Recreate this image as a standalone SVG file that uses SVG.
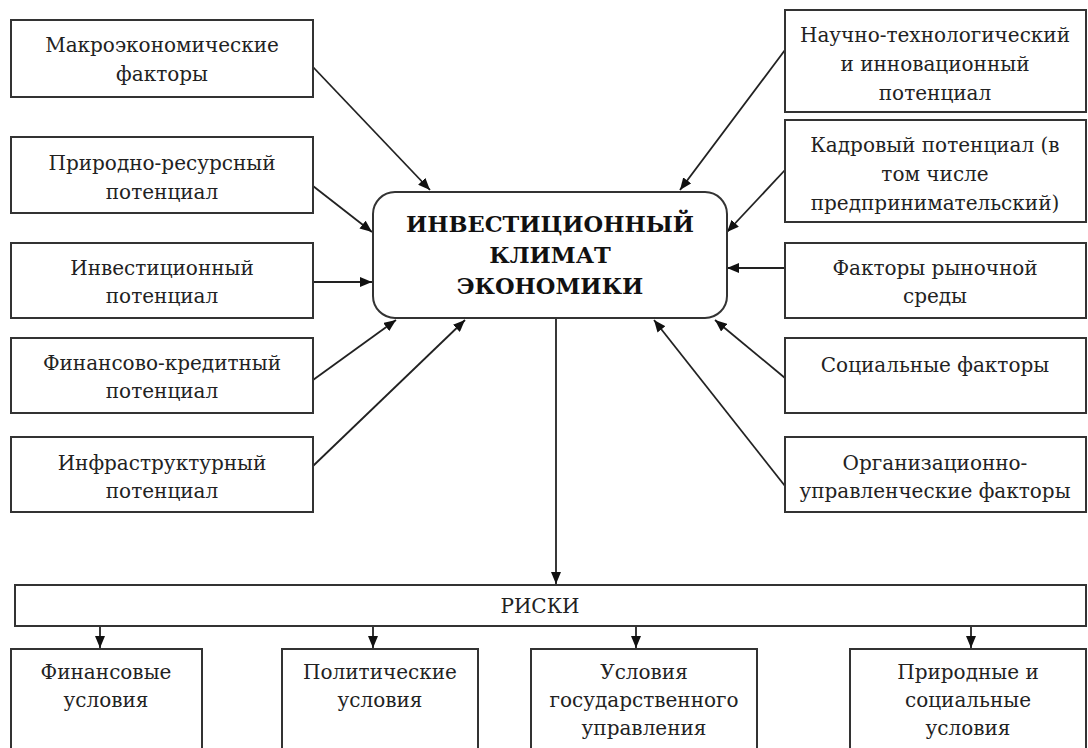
<svg xmlns="http://www.w3.org/2000/svg" width="1088" height="748" viewBox="0 0 1088 748">
<style>
.box{fill:#fff;stroke:#333;stroke-width:2}
.t{font-family:"DejaVu Serif","Liberation Serif",serif;font-size:20px;fill:#222;text-anchor:middle}
.b{font-family:"DejaVu Serif","Liberation Serif",serif;font-size:22.5px;font-weight:bold;fill:#111;text-anchor:middle}
.c{stroke:#222;stroke-width:1.8;fill:none;marker-end:url(#ah)}
</style>
<defs>
<marker id="ah" viewBox="0 0 12 10" refX="12" refY="5" markerWidth="12" markerHeight="10" markerUnits="userSpaceOnUse" orient="auto">
<path d="M0,0 L12,5 L0,10 Z" fill="#111"/>
</marker>
</defs>
<rect width="1088" height="748" fill="#fff"/>
<g id="connectors">
<line class="c" x1="313" y1="67" x2="430" y2="190"/>
<line class="c" x1="313" y1="186" x2="372" y2="232"/>
<line class="c" x1="313" y1="282" x2="372" y2="282"/>
<line class="c" x1="313" y1="380" x2="396" y2="320"/>
<line class="c" x1="313" y1="466" x2="465" y2="320"/>
<line class="c" x1="785" y1="50" x2="680" y2="190"/>
<line class="c" x1="785" y1="170" x2="727" y2="232"/>
<line class="c" x1="785" y1="268" x2="727" y2="268"/>
<line class="c" x1="785" y1="378" x2="715" y2="320"/>
<line class="c" x1="785" y1="486" x2="654" y2="320"/>
<line class="c" x1="556" y1="318" x2="556" y2="584"/>
<line class="c" x1="100" y1="627" x2="100" y2="648"/>
<line class="c" x1="373" y1="627" x2="373" y2="648"/>
<line class="c" x1="636" y1="627" x2="636" y2="648"/>
<line class="c" x1="971" y1="627" x2="971" y2="648"/>
</g>
<g id="n-center">
<rect class="box" x="373" y="192" width="354" height="126" rx="22"/>
<text class="b" x="550" y="232">ИНВЕСТИЦИОННЫЙ</text>
<text class="b" x="550" y="263">КЛИМАТ</text>
<text class="b" x="550" y="294">ЭКОНОМИКИ</text>
</g>
<g id="n-l1"><rect class="box" x="11" y="20" width="302" height="77"/>
<text class="t" x="162" y="52">Макроэкономические</text><text class="t" x="162" y="81">факторы</text></g>
<g id="n-l2"><rect class="box" x="11" y="137" width="302" height="76"/>
<text class="t" x="162" y="170">Природно-ресурсный</text><text class="t" x="162" y="199">потенциал</text></g>
<g id="n-l3"><rect class="box" x="11" y="243" width="302" height="75"/>
<text class="t" x="162" y="275">Инвестиционный</text><text class="t" x="162" y="303">потенциал</text></g>
<g id="n-l4"><rect class="box" x="11" y="338" width="302" height="75"/>
<text class="t" x="162" y="370">Финансово-кредитный</text><text class="t" x="162" y="398">потенциал</text></g>
<g id="n-l5"><rect class="box" x="11" y="437" width="302" height="75"/>
<text class="t" x="162" y="470">Инфраструктурный</text><text class="t" x="162" y="498">потенциал</text></g>
<g id="n-r1"><rect class="box" x="785" y="10" width="301" height="102"/>
<text class="t" x="935" y="42">Научно-технологический</text><text class="t" x="935" y="71">и инновационный</text><text class="t" x="935" y="100">потенциал</text></g>
<g id="n-r2"><rect class="box" x="785" y="120" width="301" height="102"/>
<text class="t" x="935" y="152">Кадровый потенциал (в</text><text class="t" x="935" y="181">том числе</text><text class="t" x="935" y="210">предпринимательский)</text></g>
<g id="n-r3"><rect class="box" x="785" y="243" width="301" height="75"/>
<text class="t" x="935" y="275">Факторы рыночной</text><text class="t" x="935" y="303">среды</text></g>
<g id="n-r4"><rect class="box" x="785" y="338" width="301" height="75"/>
<text class="t" x="935" y="372">Социальные факторы</text></g>
<g id="n-r5"><rect class="box" x="785" y="437" width="301" height="75"/>
<text class="t" x="935" y="470">Организационно-</text><text class="t" x="935" y="498">управленческие факторы</text></g>
<g id="n-risks"><rect class="box" x="15" y="585" width="1071" height="41"/>
<text class="t" x="540" y="613">РИСКИ</text></g>
<g id="n-b1"><rect class="box" x="11" y="649" width="191" height="110"/>
<text class="t" x="106" y="679">Финансовые</text><text class="t" x="106" y="707">условия</text></g>
<g id="n-b2"><rect class="box" x="282" y="649" width="196" height="110"/>
<text class="t" x="380" y="679">Политические</text><text class="t" x="380" y="707">условия</text></g>
<g id="n-b3"><rect class="box" x="531" y="649" width="226" height="110"/>
<text class="t" x="644" y="679">Условия</text><text class="t" x="644" y="707">государственного</text><text class="t" x="644" y="735">управления</text></g>
<g id="n-b4"><rect class="box" x="850" y="649" width="236" height="110"/>
<text class="t" x="968" y="679">Природные и</text><text class="t" x="968" y="707">социальные</text><text class="t" x="968" y="735">условия</text></g>
</svg>
